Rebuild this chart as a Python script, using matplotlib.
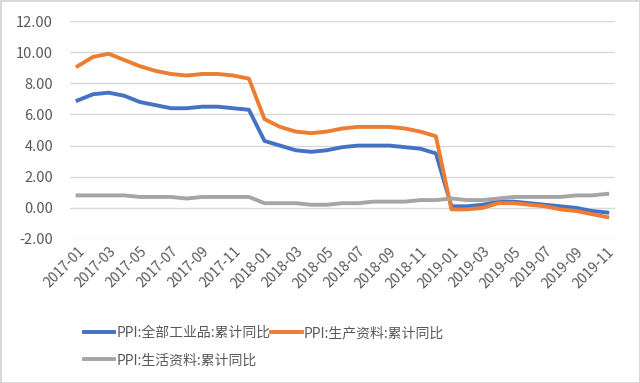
import matplotlib
matplotlib.use("Agg")
import matplotlib.pyplot as plt

plt.rcParams['font.family'] = ['Noto Sans CJK SC', 'DejaVu Sans']

# monthly cumulative y/y, 2017-01 .. 2019-11
months = [f"{y}-{m:02d}" for y in (2017, 2018, 2019) for m in range(1, 13)][:35]

ppi_all = [6.9, 7.3, 7.4, 7.2, 6.8, 6.6, 6.4, 6.4, 6.5, 6.5, 6.4, 6.3,
           4.3, 4.0, 3.7, 3.6, 3.7, 3.9, 4.0, 4.0, 4.0, 3.9, 3.8, 3.5,
           0.1, 0.1, 0.2, 0.4, 0.4, 0.3, 0.2, 0.1, 0.0, -0.2, -0.3]
ppi_prod = [9.1, 9.7, 9.9, 9.5, 9.1, 8.8, 8.6, 8.5, 8.6, 8.6, 8.5, 8.3,
            5.7, 5.2, 4.9, 4.8, 4.9, 5.1, 5.2, 5.2, 5.2, 5.1, 4.9, 4.6,
            -0.1, -0.1, 0.0, 0.3, 0.3, 0.2, 0.1, -0.1, -0.2, -0.4, -0.6]
ppi_life = [0.8, 0.8, 0.8, 0.8, 0.7, 0.7, 0.7, 0.6, 0.7, 0.7, 0.7, 0.7,
            0.3, 0.3, 0.3, 0.2, 0.2, 0.3, 0.3, 0.4, 0.4, 0.4, 0.5, 0.5,
            0.6, 0.5, 0.5, 0.6, 0.7, 0.7, 0.7, 0.7, 0.8, 0.8, 0.9]

labels = ["PPI:全部工业品:累计同比", "PPI:生产资料:累计同比", "PPI:生活资料:累计同比"]
colors = ["#4472C4", "#ED7D31", "#A5A5A5"]

fig = plt.figure(figsize=(6.4, 3.83), dpi=100)
fig.patch.set_edgecolor("#D9D9D9")
fig.patch.set_linewidth(2)
ax = fig.add_axes([0.109, 0.376, 0.852, 0.569])

x = range(len(months))
lines = []
for vals, lab, col in zip([ppi_all, ppi_prod, ppi_life], labels, colors):
    ln, = ax.plot(x, vals, color=col, lw=2.8, label=lab, solid_joinstyle="round")
    lines.append(ln)

ax.set_ylim(-2, 12)
ax.set_yticks(range(-2, 13, 2))
ax.set_yticklabels([f"{v:.2f}" for v in range(-2, 13, 2)])
ax.set_xlim(-0.5, len(months) - 0.5)
ax.set_xticks(list(x)[::2])
ax.set_xticklabels(months[::2], rotation=45, ha="right", rotation_mode="anchor")
ax.tick_params(length=0, labelsize=10, labelcolor="#595959")
ax.tick_params(axis="y", pad=12, labelsize=10.5)
ax.tick_params(axis="x", pad=4)
ax.grid(axis="y", color="#D9D9D9", lw=1)
ax.set_axisbelow(True)
for s in ax.spines.values():
    s.set_visible(False)

# row-wise legend order: first two on row 1, third on row 2
order = [0, 2, 1]
leg = fig.legend([lines[i] for i in order], [labels[i] for i in order],
                 loc="upper left", bbox_to_anchor=(0.122, 0.163), ncol=2,
                 frameon=False, fontsize=10, handlelength=2.2, handletextpad=0.15,
                 columnspacing=0.05, labelspacing=0.95, borderaxespad=0)
for t in leg.get_texts():
    t.set_color("#595959")

fig.savefig("out.png", dpi=100)
